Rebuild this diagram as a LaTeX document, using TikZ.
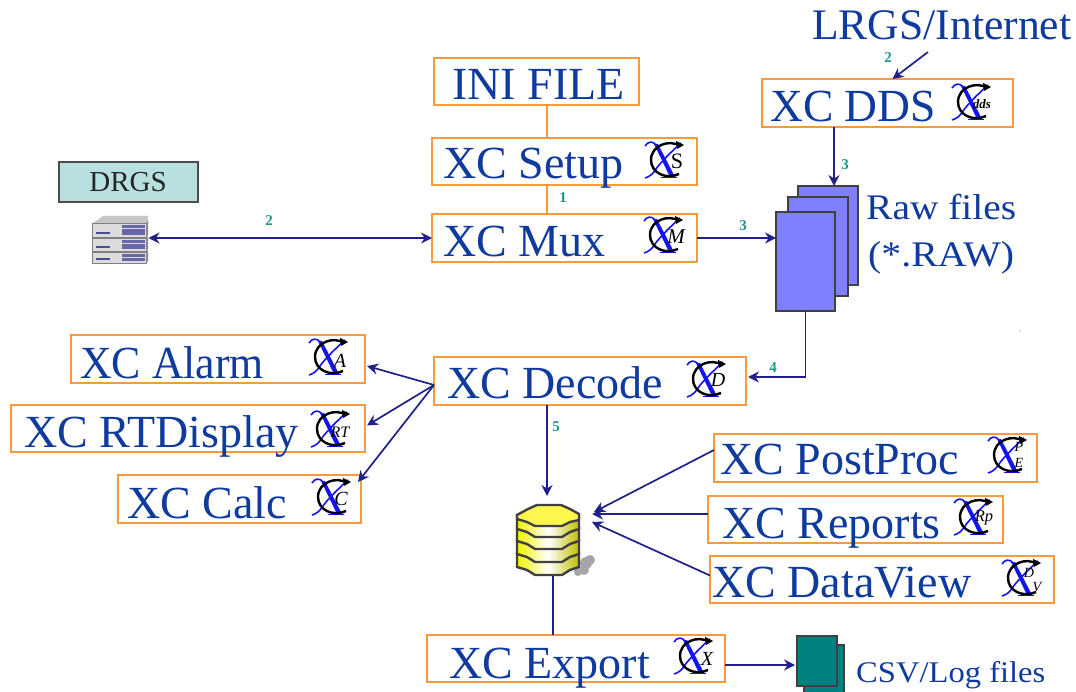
\documentclass[tikz,border=0pt]{standalone}
\usepackage{fontspec}
\setmainfont{Liberation Serif}
\usetikzlibrary{arrows.meta,calc}
\definecolor{txtblue}{HTML}{0F3A9E}
\definecolor{boxorange}{HTML}{FA9A3C}
\definecolor{arrblue}{HTML}{20208C}
\definecolor{tealnum}{HTML}{1F9488}
\definecolor{rawfill}{HTML}{8080FF}
\definecolor{csvfill}{HTML}{008080}
\definecolor{chiblue}{HTML}{1414F0}
\definecolor{drgsfill}{HTML}{B9E0E0}
\tikzset{
  obox/.style={draw=boxorange,line width=1.6pt,fill=white,inner sep=0pt,outer sep=0pt},
  bigtxt/.style={anchor=base west,inner sep=0pt,text=txtblue,font=\fontsize{46}{46}\selectfont},
  numtxt/.style={inner sep=0pt,text=tealnum,font=\bfseries\fontsize{15}{15}\selectfont},
  arr/.style={draw=arrblue,line width=1.7pt,-{Stealth[length=11pt,width=11pt]}},
  darr/.style={draw=arrblue,line width=1.7pt,{Stealth[length=11pt,width=11pt]}-{Stealth[length=11pt,width=11pt]}},
  link/.style={draw=boxorange,line width=1.4pt},
  sheet/.style={draw=black!75,line width=1.3pt,inner sep=0pt,outer sep=0pt},
  icolbl/.style={inner sep=0pt,text=black},
}
% name, x0,y0,x1,y1, text x, baseline, text
\newcommand\xcbox[8]{%
  \node[obox,minimum width={(#4-#2)*1pt},minimum height={(#5-#3)*1pt}] (#1) at ({(#2+#4)/2},{(#3+#5)/2}) {};
  \node[bigtxt] (#1t) at (#6,#7) {#8};
}
% x, y, label nodes
\newcommand\xcicon[3]{%
  \begin{scope}[shift={(#1,#2)}]
    \fill[chiblue] (-10,-16) -- (-6,-16) -- (11,17) -- (6,17) -- cycle;
    \draw[chiblue,line width=1.6pt] (-19,-14) .. controls (-16,-19) and (-11,-19) .. (-8,-15);
    \draw[chiblue,line width=1.6pt] (-3,17.5) -- (13,17.5);
    \draw[chiblue,line width=1.6pt] (17,-17) .. controls (8,-9) and (-4,3) .. (-8,9) .. controls (-11,14) and (-15,17) .. (-19,18);
    \draw[black,line width=2.4pt] (16,-14) .. controls (6,-21) and (-13,-15) .. (-13,0) .. controls (-13,13) and (2,20) .. (15,14);
    \fill[black] (12,-19) -- (20,-15) -- (13,-11) -- cycle;
    #3
  \end{scope}
}
\begin{document}
\begin{tikzpicture}[x=1pt,y=-1pt]
\useasboundingbox (0,0) rectangle (1076,692);
\fill[white] (0,0) rectangle (1076,692);

% Boxes
\xcbox{ini}{434}{58}{639}{105}{452}{100}{INI FILE}
\xcbox{setup}{432}{138}{697}{185}{443}{179}{XC Setup}
\xcbox{mux}{432}{214}{697}{262}{443}{257}{XC Mux}
\xcbox{dds}{762}{79}{1013}{127}{770}{122}{\scalebox{.99}[1]{XC DDS}}
\xcbox{decode}{434}{357}{746}{405}{447}{399}{XC Decode}
\xcbox{alarm}{71}{335}{365}{383}{80}{378}{\scalebox{.953}[1]{XC Alarm}}
\xcbox{rtd}{11}{405}{365}{452}{24}{447}{XC RTDisplay}
\xcbox{calc}{118}{475}{361}{523}{127}{518}{XC Calc}
\xcbox{post}{714}{434}{1037}{482}{720}{474}{XC PostProc}
\xcbox{rep}{708}{496}{1003}{543}{722}{538}{XC Reports}
\xcbox{view}{710}{556}{1054}{603}{712}{597}{XC DataView}
\xcbox{export}{427}{635}{725}{682}{449}{678}{XC Export}

% Icons
\xcicon{664}{160}{\node[icolbl,font=\fontsize{22}{22}\selectfont] (lS) at (13,1) {S};}
\xcicon{663}{235}{\node[icolbl,font=\itshape\fontsize{21}{21}\selectfont] (lM) at (13,2) {M};}
\xcicon{971}{102}{\node[icolbl,font=\bfseries\itshape\fontsize{13}{13}\selectfont] (ldds) at (11,2) {dds};}
\xcicon{706}{379}{\node[icolbl,font=\itshape\fontsize{20}{20}\selectfont] (lD) at (12,1) {D};}
\xcicon{328}{357}{\node[icolbl,font=\itshape\fontsize{20}{20}\selectfont] (lA) at (12,4) {A};}
\xcicon{330}{429}{\node[icolbl,font=\itshape\fontsize{16}{16}\selectfont] (lRT) at (10,3) {RT};}
\xcicon{331}{497}{\node[icolbl,font=\itshape\fontsize{20}{20}\selectfont] (lC) at (10,2) {C};}
\xcicon{1007}{455}{\node[icolbl,font=\itshape\fontsize{14}{14}\selectfont] (lP) at (12,-8) {P};\node[icolbl,font=\itshape\fontsize{14}{14}\selectfont] (lE) at (12,8) {E};}
\xcicon{973}{517}{\node[icolbl,font=\itshape\fontsize{16.5}{17}\selectfont] (lRp) at (11,1) {Rp};}
\xcicon{1021}{578}{\node[icolbl,font=\itshape\fontsize{14}{14}\selectfont] (lD2) at (8,-5) {D};\node[icolbl,font=\itshape\fontsize{14}{14}\selectfont] (lV) at (16,9) {V};}
\xcicon{693}{656}{\node[icolbl,font=\itshape\fontsize{20}{20}\selectfont] (lX) at (14,3) {X};}

% Free texts
\node[bigtxt,font=\fontsize{43.6}{44}\selectfont] (lrgs) at (812,40) {LRGS/Internet};
\node[bigtxt,font=\fontsize{36}{36}\selectfont] (rawa) at (866,220) {\scalebox{1.095}[1]{Raw files}};
\node[bigtxt,font=\fontsize{36}{36}\selectfont] (rawb) at (868,267) {\scalebox{1.105}[1]{(*.RAW)}};
\node[bigtxt,font=\fontsize{30}{30}\selectfont] (csvt) at (856,682) {\scalebox{1.086}[1]{CSV/Log files}};

% DRGS
\node[draw=black!70,line width=1.2pt,fill=drgsfill,minimum width=139pt,minimum height=40pt,inner sep=0pt,outer sep=0pt] (drgs) at (128.5,182) {};
\node[inner sep=0pt,anchor=base,text=black!85,font=\fontsize{29}{29}\selectfont] (drgst) at (128,192) {DRGS};

% Server stack
\node[minimum width=57pt,minimum height=47pt,inner sep=0pt,outer sep=0pt] (srv) at (120,238) {};
\fill[black!22] (92,224) -- (103,216) -- (148,216) -- (148,224) -- cycle;
\foreach \t/\h in {223/14,238/13,252/11}{
  \fill[black!14] (92,\t) rectangle (146,\t+\h);
  \draw[black!50,line width=.8pt] (92,\t) rectangle (146,\t+\h);
  \fill[black!55!blue!60!white] (122,\t+2) rectangle (145,\t+\h-2);
  \fill[white!70!gray] (122,\t+5) rectangle (145,\t+6.5);
  \fill[black!60!blue!70!white] (96,\t+\h-5) rectangle (110,\t+\h-3);
  \fill[black!45] (146,\t) -- (148,\t-2) -- (148,\t+\h-2) -- (146,\t+\h) -- cycle;
}

% Raw file stack
\node[sheet,fill=rawfill,minimum width=60pt,minimum height=99pt] (rawc) at (828,235.5) {};
\node[sheet,fill=rawfill,minimum width=60pt,minimum height=99pt] (rawb2) at (818,246.5) {};
\node[sheet,fill=rawfill,minimum width=59pt,minimum height=99pt] (rawf) at (805.5,261.5) {};

% CSV stack
\begin{scope}
  \clip (790,630) rectangle (850,692);
  \node[sheet,fill=csvfill,minimum width=40pt,minimum height=52pt] (csvb) at (824,671) {};
\end{scope}
\node[sheet,fill=csvfill,minimum width=40pt,minimum height=50pt] (csvf) at (817,661) {};

% Database
\node[minimum width=64pt,minimum height=72pt,inner sep=0pt,outer sep=0pt] (db) at (548,540) {};
\foreach \cx/\cy/\r in {586/563/6,590/560/5,584/570/5,578/572/4}{\fill[black!35] (\cx,\cy) circle (\r);}
\foreach \b in {575,562,549,537}{
  \draw[draw=black!75,line width=2.4pt,left color=yellow!95!black,right color=yellow!75!black,middle color=white]
    (517,\b-22) -- (517,\b-8) -- (527,\b-5) -- (535,\b) -- (562,\b) -- (570,\b-5) -- (579,\b-8) -- (579,\b-22) -- cycle;
}
\draw[draw=black!75,line width=2.4pt,fill=yellow!70!white]
  (517,515) -- (528,509) -- (537,505) -- (561,505) -- (570,509) -- (579,514) -- (579,520) -- (570,522) -- (562,526) -- (535,526) -- (527,522) -- (517,519) -- cycle;

% Tiny mark
\fill[black!60] (1020,331) circle (.6);

% Connectors
\coordinate (lrgsout) at (928,52);
\coordinate (dbpa) at (594,512);
\coordinate (dbpb) at (592,514);
\coordinate (dbpc) at (592,522);
\draw[link] ([xshift=113pt]ini.south west) -- ([xshift=115pt]setup.north west);
\draw[link] ([xshift=115pt]setup.south west) -- ([xshift=115pt]mux.north west);
\draw[darr] (srv.east) -- (mux.west);
\draw[arr] (mux.east) -- (mux.east -| rawf.west);
\draw[arr] (lrgsout) -- ([xshift=5pt]dds.north);
\draw[arr] ([xshift=72pt]dds.south west) -- ([xshift=36pt]rawc.north west);
\draw[arr] (rawf.south) |- ([xshift=2pt,yshift=4pt]decode.east);
\draw[arr] ([yshift=-4pt]decode.west) -- ([xshift=2pt,yshift=-7pt]alarm.east);
\draw[arr] ([yshift=-4pt]decode.west) -- ([xshift=2pt,yshift=3pt]rtd.east);
\draw[arr] ([yshift=-4pt]decode.west) -- ([xshift=-3pt,yshift=17pt]calc.east);
\draw[arr] ([xshift=113pt]decode.south west) -- ([xshift=-1pt,yshift=8pt]db.north);
\draw[arr] ([yshift=8pt]post.west) -- (dbpa);
\draw[arr] (rep.west |- dbpb) -- (dbpb);
\draw[arr] ([yshift=4pt]view.west) -- (dbpc);
\draw[draw=arrblue,line width=1.7pt] ([xshift=5pt]db.south) -- ([xshift=126pt]export.north west);
\draw[arr] ([yshift=-6.5pt]export.east) -- ([xshift=-2pt,yshift=-4pt]csvf.west);

% Connector numbers
\node[numtxt] (n1) at (563,198) {1};
\node[numtxt] (n2) at (269,221) {2};
\node[numtxt] (n3) at (743,226) {3};
\node[numtxt] (n4) at (845,165) {3};
\node[numtxt] (n5) at (888,58) {2};
\node[numtxt] (n6) at (773,368) {4};
\node[numtxt] (n7) at (556,427) {5};
\end{tikzpicture}
\end{document}
